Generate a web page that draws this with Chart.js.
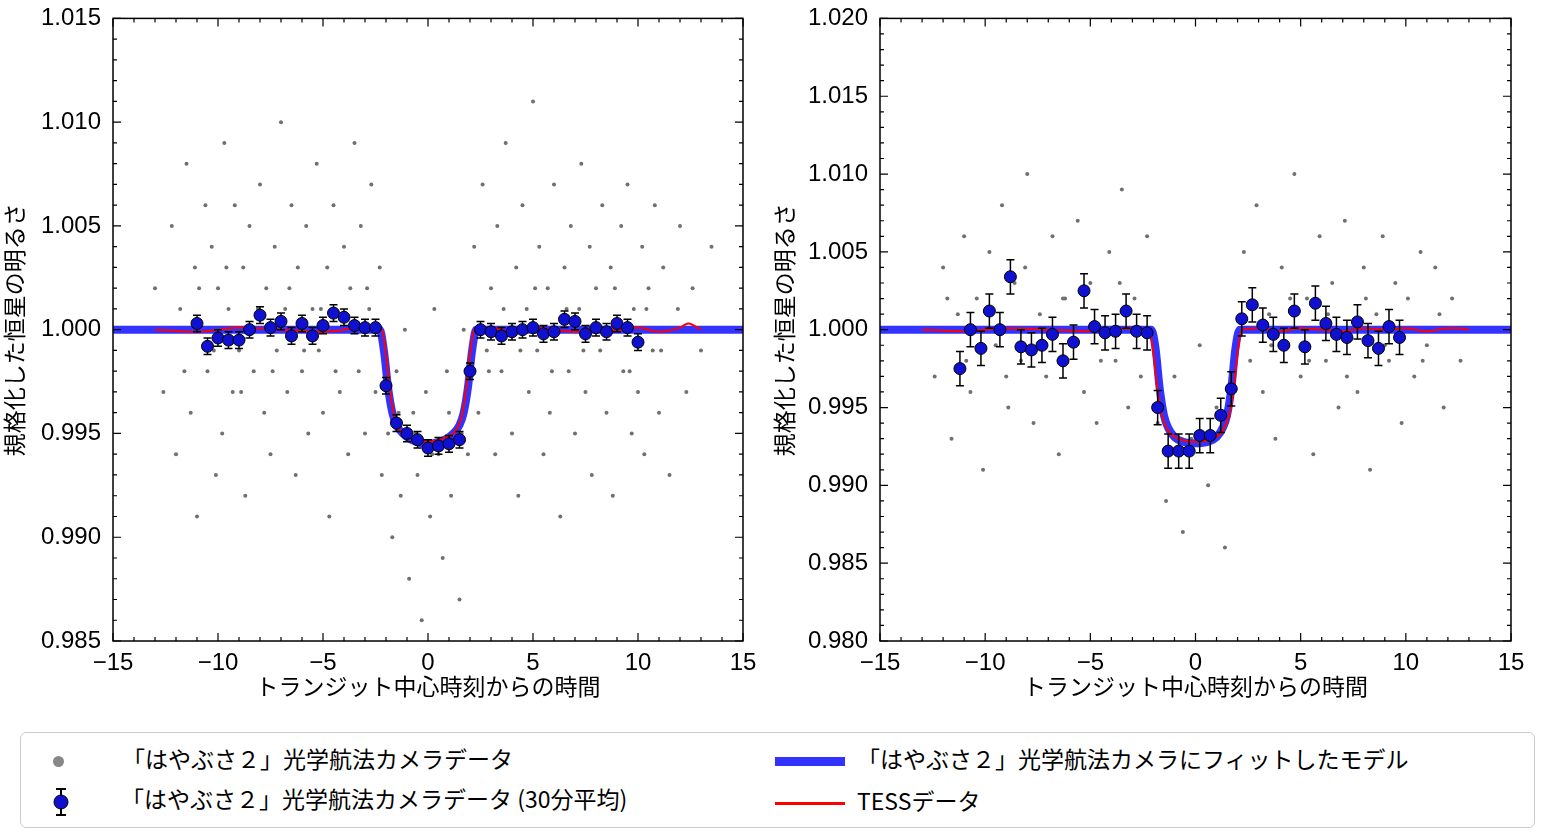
<!DOCTYPE html>
<html><head><meta charset="utf-8">
<script src="https://cdn.jsdelivr.net/npm/chart.js@4"></script>
<style>
body{margin:0;background:#fff;width:1544px;height:834px;overflow:hidden;position:relative;font-family:"Noto Sans CJK JP","Liberation Sans",sans-serif}
.wrap{position:absolute;top:0;height:700px}
#legend{position:absolute;left:20px;top:732px;width:1513px;height:94px;border:1.5px solid #ccc;border-radius:6px;font-size:23px}
.it{position:absolute;white-space:nowrap}
</style></head><body>
<div class="wrap" style="left:0;width:770px"><canvas id="c1"></canvas></div>
<div class="wrap" style="left:770px;width:774px"><canvas id="c2"></canvas></div>
<div id="legend">
 <div class="it" style="left:32px;top:8px"><span style="display:inline-block;width:11px;height:11px;border-radius:50%;background:#888;margin-right:58px;vertical-align:middle"></span>「はやぶさ２」光学航法カメラデータ</div>
 <div class="it" style="left:32px;top:48px"><svg width="16" height="30" style="vertical-align:middle;margin-right:52px"><line x1="8" y1="2" x2="8" y2="28" stroke="#000" stroke-width="2"/><line x1="3" y1="2" x2="13" y2="2" stroke="#000" stroke-width="2"/><line x1="3" y1="28" x2="13" y2="28" stroke="#000" stroke-width="2"/><circle cx="8" cy="15" r="7" fill="#1010d0" stroke="#000"/></svg>「はやぶさ２」光学航法カメラデータ (30分平均)</div>
 <div class="it" style="left:754px;top:8px"><span style="display:inline-block;width:70px;height:9px;background:#3333ff;margin-right:12px;vertical-align:middle"></span>「はやぶさ２」光学航法カメラにフィットしたモデル</div>
 <div class="it" style="left:754px;top:50px"><span style="display:inline-block;width:70px;height:3px;background:#ff0000;margin-right:12px;vertical-align:middle"></span>TESSデータ</div>
</div>
<script>
// ---- data ----
const leftBinX = [-11,-10.5,-10,-9.5,-9,-8.5,-8,-7.5,-7,-6.5,-6,-5.5,-5,-4.5,-4,-3.5,-3,-2.5,-2,-1.5,-1,-0.5,0,0.5,1,1.5,2,2.5,3,3.5,4,4.5,5,5.5,6,6.5,7,7.5,8,8.5,9,9.5,10];
const leftBinY = [1.0003,0.9992,0.9996,0.9995,0.9995,1.0000,1.0007,1.0001,1.0004,0.9997,1.0003,0.9997,1.0002,1.0008,1.0006,1.0002,1.0001,1.0001,0.9973,0.9955,0.9950,0.9947,0.9943,0.9944,0.9945,0.9947,0.9980,1.0000,0.9999,0.9997,0.9999,1.0000,1.0001,0.9998,0.9999,1.0005,1.0004,0.9998,1.0001,0.9999,1.0003,1.0001,0.9994];
const leftBinErr = 0.0004;
const rightBinX = [-11.2,-10.7,-10.2,-9.8,-9.3,-8.8,-8.3,-7.8,-7.3,-6.8,-6.3,-5.8,-5.3,-4.8,-4.3,-3.8,-3.3,-2.8,-2.3,-1.8,-1.3,-0.8,-0.3,0.2,0.7,1.2,1.7,2.2,2.7,3.2,3.7,4.2,4.7,5.2,5.7,6.2,6.7,7.2,7.7,8.2,8.7,9.2,9.7];
const rightBinY = [0.9975,1.0000,0.9988,1.0012,1.0000,1.0034,0.9989,0.9987,0.9990,0.9997,0.9980,0.9992,1.0025,1.0002,0.9998,0.9999,1.0012,0.9999,0.9998,0.9950,0.9922,0.9922,0.9922,0.9932,0.9932,0.9945,0.9962,1.0007,1.0016,1.0003,0.9997,0.9990,1.0012,0.9989,1.0017,1.0004,0.9997,0.9995,1.0005,0.9993,0.9988,1.0002,0.9995];
const rightBinErr = 0.0011;
const leftModelX = [-15,-2.3,-2.1,-1.9,-1.7,-1.5,-1.2,-0.8,0,0.8,1.2,1.5,1.7,1.9,2.1,2.3,15];
const leftModelY = [1,1,0.9990,0.9972,0.9960,0.9954,0.9950,0.9947,0.9945,0.9947,0.9950,0.9954,0.9960,0.9972,0.9990,1,1];
const rightModelX = [-15,-2.1,-1.9,-1.7,-1.5,-1.3,-1.0,-0.6,0,0.6,1.0,1.3,1.5,1.7,1.9,2.1,15];
const rightModelY = [1,1,0.9988,0.9962,0.9945,0.9937,0.9931,0.9928,0.9927,0.9928,0.9931,0.9937,0.9945,0.9962,0.9988,1,1];
const tessX = [-13,-11,-9,-7,-5,-3,-2.2,-2.0,-1.8,-1.6,-1.3,-0.8,0,0.8,1.3,1.6,1.8,2.0,2.2,3,4,5,6,7,8,9,10,11,12,12.4,13];
const tessLeftY = [1,0.9999,1.0001,1,0.9999,1.0001,1,0.9988,0.9970,0.9958,0.9951,0.9948,0.9946,0.9948,0.9951,0.9958,0.9970,0.9988,1,1.0001,0.9999,1.0001,1,0.9999,1.0001,1,1.0001,0.9999,1.0001,1.0003,1];
const tessRightY = [1,0.9999,1.0001,1,0.9999,1.0001,1,0.9985,0.9960,0.9945,0.9935,0.9930,0.9928,0.9930,0.9935,0.9945,0.9960,0.9985,1,1.0001,0.9999,1.0001,1,0.9999,1.0001,1,1.0001,0.9999,1.0001,1.0001,1];
// raw camera points: x [h], y deviation [ppt]
const leftRaw = [[-13,2],[-12.6,-3],[-12.2,5],[-12,-6],[-11.8,1],[-11.5,8],[-11.3,-4],[-11.1,3],[-11,-9],[-10.8,0],[-10.6,6],[-10.5,-2],[-10.3,4],[-10.1,-7],[-10,2],[-9.8,-5],[-9.7,9],[-9.5,1],[-9.3,-3],[-9.2,6],[-9,-1],[-8.8,3],[-8.7,-8],[-8.5,5],[-8.3,-2],[-8.2,0],[-8,7],[-7.8,-4],[-7.7,2],[-7.5,-6],[-7.3,4],[-7.2,-1],[-7,10],[-6.8,1],[-6.7,-3],[-6.5,6],[-6.3,-7],[-6.2,3],[-6,-2],[-5.8,5],[-5.7,-5],[-5.5,1],[-5.3,8],[-5.2,-1],[-5,-4],[-4.8,3],[-4.7,-9],[-4.5,6],[-4.3,0],[-4.2,-3],[-4,4],[-3.8,-6],[-3.7,2],[-3.5,9],[-3.3,-2],[-3.2,5],[-3,-5],[-2.8,1],[-2.7,7],[-2.5,-3],[-2.3,3],[-2.2,-7],
[-1.9,-5],[-1.7,-10],[-1.5,-2],[-1.3,-8],[-1.1,0],[-0.9,-12],[-0.7,-4],[-0.5,-7],[-0.3,-14],[-0.1,-3],[0.1,-9],[0.3,1],[0.5,-6],[0.7,-11],[0.9,-2],[1.1,-8],[1.3,-5],[1.5,-13],[1.7,0],[1.9,-6],
[2.2,4],[2.4,-4],[2.6,7],[2.8,-1],[3,2],[3.2,-6],[3.3,5],[3.5,-2],[3.7,9],[3.8,0],[4,-5],[4.2,3],[4.3,-8],[4.5,6],[4.7,1],[4.8,-3],[5,11],[5.2,-1],[5.3,4],[5.5,-6],[5.7,2],[5.8,-4],[6,7],[6.2,0],[6.3,-9],[6.5,3],[6.7,-2],[6.8,5],[7,-5],[7.2,1],[7.3,8],[7.5,-3],[7.7,4],[7.8,-7],[8,2],[8.2,-1],[8.3,6],[8.5,-4],[8.7,3],[8.8,-8],[9,0],[9.2,5],[9.3,-2],[9.5,7],[9.7,-5],[9.8,1],[10,-3],[10.2,4],[10.3,-6],[10.5,2],[10.7,-1],[10.8,6],[11,-4],[11.2,3],[11.5,-7],[11.7,0],[12,5],[12.3,-3],[12.6,2],[13,-1],[13.5,4],
[-12.4,0],[-11.6,-2],[-10.9,2],[-10.2,-1],[-9.6,3],[-8.9,-3],[-8.1,1],[-7.4,-2],[-6.6,2],[-5.9,-1],[-5.1,1],[-4.4,-2],[-3.6,0],[-2.9,2],[2.9,-2],[3.6,1],[4.4,-1],[5.1,2],[5.9,-2],[6.6,1],[7.4,-1],[8.1,0],[8.9,2],[9.6,-2],[10.4,1],[11.1,-1],[11.9,1],[-1.4,-4],[-0.6,-5],[0.2,-6],[1.0,-4],[1.6,-5]];
const rightRaw = [[-12.4,-3],[-12,4],[-11.6,-7],[-11.3,1],[-11,6],[-10.7,-4],[-10.4,2],[-10.1,-9],[-9.8,5],[-9.5,-1],[-9.2,8],[-8.9,-5],[-8.6,3],[-8.3,-2],[-8,10],[-7.7,-6],[-7.4,1],[-7.1,-3],[-6.8,6],[-6.5,-8],[-6.2,2],[-5.9,-1],[-5.6,7],[-5.3,-4],[-5,3],[-4.7,-6],[-4.4,0],[-4.1,5],[-3.8,-2],[-3.5,9],[-3.2,-5],[-2.9,2],[-2.6,-3],[-2.3,6],
[-1.8,-6],[-1.4,-11],[-1,-3],[-0.6,-13],[-0.2,-7],[0.2,-1],[0.6,-10],[1,-5],[1.4,-14],[1.8,-2],
[2.3,5],[2.6,-2],[2.9,8],[3.2,-4],[3.5,1],[3.8,-7],[4.1,4],[4.4,-1],[4.7,10],[5,-3],[5.3,2],[5.6,-8],[5.9,6],[6.2,-2],[6.5,3],[6.8,-5],[7.1,7],[7.4,0],[7.7,-4],[8,4],[8.3,-9],[8.6,1],[8.9,6],[9.2,-2],[9.5,3],[9.8,-6],[10.1,2],[10.4,-3],[10.7,5],[11,-1],[11.4,4],[11.8,-5],[12.2,2],[12.6,-2],
[-11.8,2],[-10.9,-2],[-9.9,1],[-9,-3],[-8.1,4],[-7.2,-1],[-6.3,2],[-5.4,0],[-4.5,-2],[-3.6,3],[3.6,-1],[4.5,2],[5.4,-2],[6.3,1],[7.2,-3],[8.1,2],[9,-1],[9.9,0],[10.8,-2],[11.6,1]];

const FT = '"Liberation Sans", Arial, sans-serif';
const JP = '"Noto Sans CJK JP", sans-serif';

const frame = {
  id: 'frame',
  afterDraw(chart) {
    const {ctx, chartArea: a, scales: {x, y}} = chart;
    ctx.save();
    ctx.strokeStyle = '#000'; ctx.lineWidth = 1.5;
    ctx.strokeRect(a.left, a.top, a.right - a.left, a.bottom - a.top);
    ctx.lineWidth = 1.2;
    for (let v = -15; v <= 15; v += 1) {
      const p = x.getPixelForValue(v), L = v % 5 === 0 ? 8 : 4;
      ctx.beginPath(); ctx.moveTo(p, a.bottom); ctx.lineTo(p, a.bottom - L);
      ctx.moveTo(p, a.top); ctx.lineTo(p, a.top + L); ctx.stroke();
    }
    for (let k = Math.round(y.min * 1000); k <= Math.round(y.max * 1000); k++) {
      const p = y.getPixelForValue(k / 1000), L = k % 5 === 0 ? 8 : 4;
      ctx.beginPath(); ctx.moveTo(a.left, p); ctx.lineTo(a.left + L, p);
      ctx.moveTo(a.right, p); ctx.lineTo(a.right - L, p); ctx.stroke();
    }
    ctx.restore();
  }
};
const errBars = {
  id: 'errBars',
  beforeDatasetDraw(chart, args) {
    const ds = chart.data.datasets[args.index];
    if (!ds.err) return;
    const {ctx, scales: {y}} = chart;
    ctx.save(); ctx.strokeStyle = '#000'; ctx.lineWidth = 1.5;
    args.meta.data.forEach((pt, i) => {
      const v = ds.data[i].y;
      const t = y.getPixelForValue(v + ds.err), b = y.getPixelForValue(v - ds.err);
      ctx.beginPath(); ctx.moveTo(pt.x, t); ctx.lineTo(pt.x, b);
      ctx.moveTo(pt.x - 4, t); ctx.lineTo(pt.x + 4, t);
      ctx.moveTo(pt.x - 4, b); ctx.lineTo(pt.x + 4, b); ctx.stroke();
    });
    ctx.restore();
  }
};

function make(id, raw, base, binX, binY, err, mX, mY, tY, ymin, ymax, padR, yw) {
  const pts = (xs, ys) => xs.map((v, i) => ({x: v, y: ys[i]}));
  new Chart(document.getElementById(id), {
    type: 'scatter',
    data: { datasets: [
      {data: raw.map(p => ({x: p[0], y: base + p[1] / 1000})), pointRadius: 2, pointBorderWidth: 0, backgroundColor: '#707070', order: 4},
      {type: 'line', data: pts(mX, mY), borderColor: '#3333ff', borderWidth: 8, pointRadius: 0, cubicInterpolationMode: 'monotone', order: 3},
      {type: 'line', data: pts(tessX, tY), borderColor: '#ff0000', borderWidth: 2, pointRadius: 0, cubicInterpolationMode: 'monotone', order: 2},
      {data: pts(binX, binY), err: err, pointRadius: 6, backgroundColor: '#1010d0', borderColor: '#000', borderWidth: 1, order: 1}
    ]},
    options: {
      responsive: true, maintainAspectRatio: false, animation: false,
      layout: {padding: {top: 17, right: padR, left: 0, bottom: 0}},
      plugins: {legend: {display: false}, tooltip: {enabled: false}},
      scales: {
        x: { min: -15, max: 15,
          afterFit: s => { s.height = 59; },
          ticks: {stepSize: 5, color: '#000', font: {family: FT, size: 24}, padding: 0, maxRotation: 0,
            callback: v => String(v).replace('-', '\u2212')},
          grid: {display: false}, border: {display: false},
          title: {display: true, text: 'トランジット中心時刻からの時間', color: '#000', font: {family: JP, size: 23}, padding: 0}
        },
        y: { min: ymin, max: ymax,
          afterFit: s => { s.width = yw; },
          ticks: {stepSize: 0.005, color: '#000', font: {family: FT, size: 24}, padding: 4, callback: v => v.toFixed(3)},
          grid: {display: false}, border: {display: false},
          title: {display: true, text: '規格化した恒星の明るさ', color: '#000', font: {family: JP, size: 23}, padding: 0}
        }
      }
    },
    plugins: [errBars, frame]
  });
}
make('c1', leftRaw, 1.0, leftBinX, leftBinY, leftBinErr, leftModelX, leftModelY, tessLeftY, 0.985, 1.015, 27, 113);
make('c2', rightRaw, 1.0, rightBinX, rightBinY, rightBinErr, rightModelX, rightModelY, tessRightY, 0.980, 1.020, 33, 110);
</script>
</body></html>
